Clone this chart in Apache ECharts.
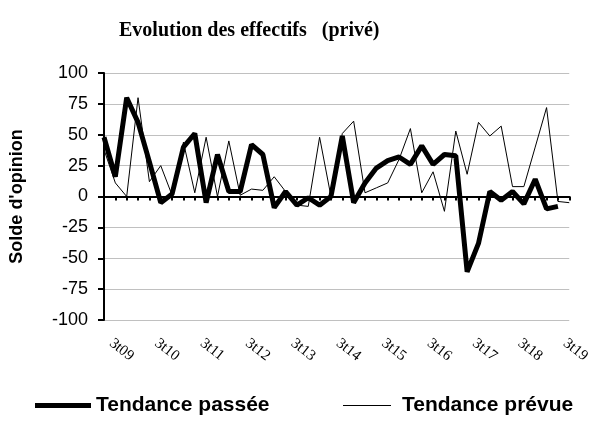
<!DOCTYPE html>
<html>
<head>
<meta charset="utf-8">
<script src="https://cdn.jsdelivr.net/npm/echarts@6/dist/echarts.min.js"></script>
<style>html,body{margin:0;padding:0;background:#fff;}#c{width:593px;height:425px;}</style>
</head>
<body>
<div id="c"></div>
<script>
var categories = ['3t09','4t09','1t10','2t10','3t10','4t10','1t11','2t11','3t11','4t11',
  '1t12','2t12','3t12','4t12','1t13','2t13','3t13','4t13','1t14','2t14','3t14','4t14',
  '1t15','2t15','3t15','4t15','1t16','2t16','3t16','4t16','1t17','2t17','3t17','4t17',
  '1t18','2t18','3t18','4t18','1t19','2t19','3t19','4t19'];
var tendancePassee = [48,16,80,60,28,-5,2,40,51,-5,34,4,4,42,34,-9,4,-7,-1,-7,0,49,-5,11,23,29,32,26,41,26,34,33,-61,-38,4,-3,4,-6,14,-10,-8,null];
var tendancePrevue = [38,11,0,80,12,25,1,44,3,48,0,45,1,6,5,16,4,-7,-8,48,0,51,61,3,7,11,30,55,3,20,-12,53,18,60,49,57,8,8,40,72,-4,-5];
var yMin = -100, yMax = 100, yStep = 25;

var chart = echarts.init(document.getElementById('c'), null, {renderer:'canvas'});
chart.setOption({
  animation: false,
  backgroundColor: '#fff',
  title: {
    text: 'Evolution des effectifs   (privé)',
    left: 119, top: 21, padding: 0,
    textStyle: {fontFamily: 'Liberation Serif', fontWeight: 'bold', fontSize: 20, color: '#000'}
  },
  grid: {left: 104, right: 20, top: 73, bottom: 105, containLabel: false},
  legend: [
    {data: ['Tendance passée'], left: 35, top: 395, padding: 0, icon: 'rect', itemWidth: 56, itemHeight: 5,
     textStyle: {fontFamily: 'Liberation Sans', fontWeight: 'bold', fontSize: 21, color: '#000'}},
    {data: ['Tendance prévue'], left: 343, top: 395, padding: 0, icon: 'rect', itemWidth: 48, itemHeight: 1,
     textStyle: {fontFamily: 'Liberation Sans', fontWeight: 'bold', fontSize: 21, color: '#000', padding: [0,0,0,6]}}
  ],
  xAxis: [
    {type: 'category', data: categories, boundaryGap: false,
     axisLine: {onZero: true, lineStyle: {color: '#000', width: 2}},
     axisTick: {show: true, interval: 0, length: 4, lineStyle: {color: '#000', width: 2}},
     axisLabel: {show: false}, splitLine: {show: false}},
    {type: 'category', data: categories, boundaryGap: false, position: 'bottom',
     axisLine: {show: false, onZero: false}, axisTick: {show: false},
     axisLabel: {show: true, interval: 3, rotate: -38, margin: 16, padding: [0,0,0,9],
       fontFamily: 'Liberation Serif', fontSize: 15, color: '#000'},
     splitLine: {show: false}}
  ],
  yAxis: {
    type: 'value', min: yMin, max: yMax, interval: yStep,
    name: "Solde d'opinion", nameLocation: 'middle', nameRotate: 90, nameGap: 78,
    nameTextStyle: {fontFamily: 'Liberation Sans', fontWeight: 'bold', fontSize: 18, color: '#000'},
    axisLine: {show: true, lineStyle: {color: '#000', width: 2}},
    axisTick: {show: true, length: 6, lineStyle: {color: '#000', width: 2}},
    axisLabel: {fontFamily: 'Liberation Sans', fontSize: 18, color: '#000', margin: 16},
    splitLine: {show: true, lineStyle: {color: '#c0c0c0', width: 1}}
  },
  series: [
    {name: 'Tendance prévue', type: 'line', xAxisIndex: 0, data: tendancePrevue,
     symbol: 'none', lineStyle: {color: '#000', width: 1}, itemStyle: {color: '#000'}, z: 2},
    {name: 'Tendance passée', type: 'line', xAxisIndex: 0, data: tendancePassee,
     symbol: 'none', lineStyle: {color: '#000', width: 5}, itemStyle: {color: '#000'}, z: 3}
  ]
});
</script>
</body>
</html>
